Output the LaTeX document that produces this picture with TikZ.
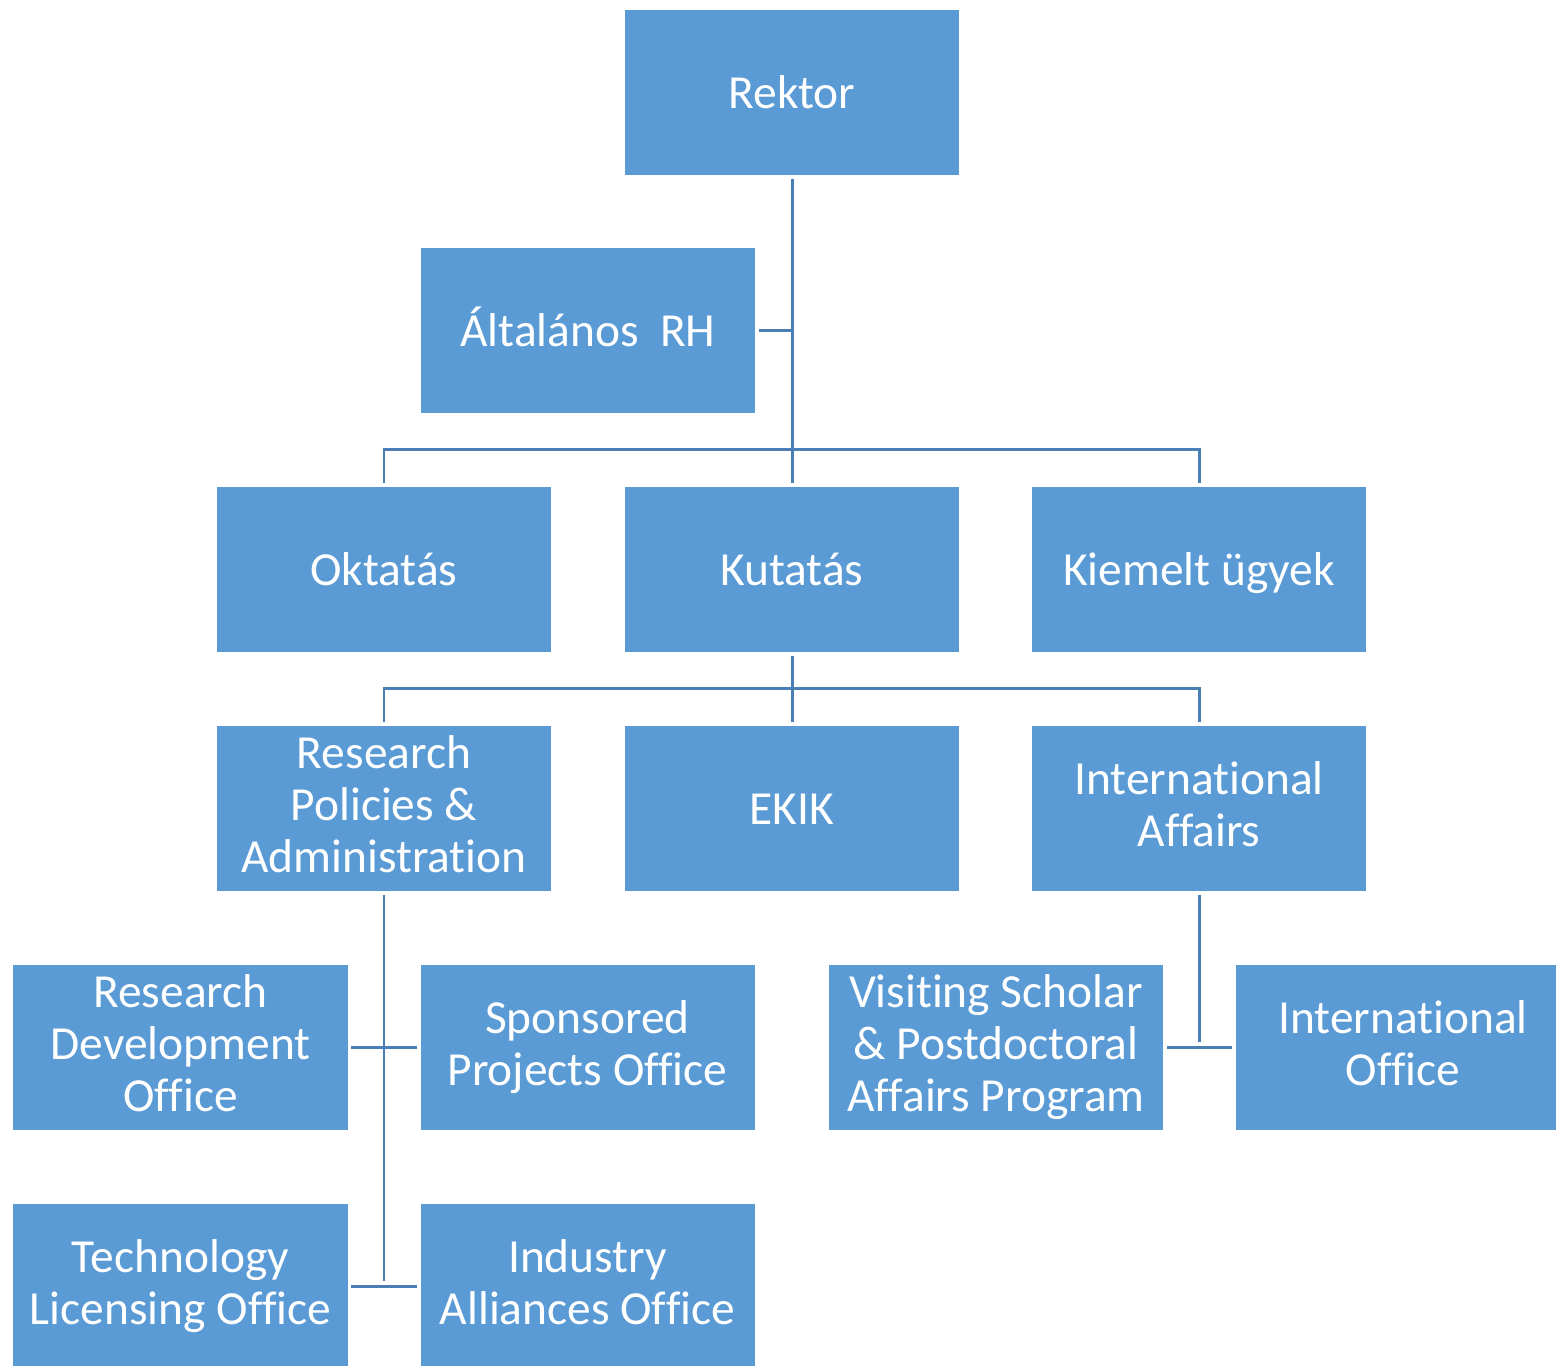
\documentclass[tikz,border=0pt]{standalone}
\usepackage{fontspec}
\setmainfont{Carlito}[Ligatures={NoCommon,NoRequired,NoContextual,NoRare},Contextuals={NoAlternate}]
\usepackage{xcolor}
\usepackage{tikz}
\usetikzlibrary{calc}
\usetikzlibrary{positioning}

\definecolor{boxblue}{HTML}{5B9BD5}
\definecolor{linkblue}{HTML}{4A7EB4}
\newcommand{\unitstrut}{\vrule height 12pt depth 2.7pt width 0pt}

\begin{document}
\begin{tikzpicture}[-,
                    unit box/.style={rectangle,fill=boxblue,text=white,minimum width=3.34cm,minimum height=1.65cm,
                                     inner sep=0pt,align=center,font=\fontsize{13.5}{14.8}\selectfont,
                                     execute at begin node=\unitstrut,execute at end node=\unitstrut},
                    link/.style={draw=linkblue,line width=0.85pt,shorten <=0.03cm,shorten >=0.03cm}]

  \useasboundingbox (0,0) rectangle (15.56,-13.65);
  \clip (0,0) rectangle (15.56,-13.65);

  \node[unit box] (rektor) at (7.92,-0.925) {Rektor};
  \node[unit box] (altalanos) [shift={(-2.04,-2.38)}] at (rektor) {Általános\ \ RH};
  \node[unit box] (kutatas) [shift={(0,-4.77)}] at (rektor) {Kutatás};
  \node[unit box] (oktatas) [shift={(-4.08,0)}] at (kutatas) {Oktatás};
  \node[unit box] (kiemelt) [shift={(4.07,0)}] at (kutatas) {Kiemelt ügyek};

  \node[unit box] (rpa) [shift={(0,-2.39)}] at (oktatas) {Research\\Policies \&\\Administration};
  \node[unit box] (ekik) [shift={(0,-2.39)}] at (kutatas) {EKIK};
  \node[unit box] (intaff) [shift={(0,-2.39)}] at (kiemelt) {International\\Affairs};

  \node[unit box] (rdo) [shift={(-2.035,-2.39)}] at (rpa) {Research\\Development\\Office};
  \node[unit box] (spo) [shift={(2.035,-2.39)}] at (rpa) {Sponsored\\Projects Office};
  \node[unit box] (tlo) [shift={(0,-2.39)}] at (rdo) {Technology\\Licensing Office};
  \node[unit box] (iao) [shift={(0,-2.39)}] at (spo) {Industry\\Alliances Office};

  \node[unit box] (visiting) [shift={(-2.03,-2.39)}] at (intaff) {Visiting Scholar\\\& Postdoctoral\\Affairs Program};
  \node[unit box] (intoffice) [shift={(2.04,-2.39)}] at (intaff) {International\\Office};

  % buses
  \coordinate (bus1) at ($(kutatas.north)+(0,0.37)$);
  \coordinate (bus2) at ($(ekik.north)+(0,0.37)$);

  \path[link] (rektor.south) edge (kutatas.north);
  \path[link] (altalanos.east) edge ([shift={(0.03,0)}]altalanos.east -| rektor.south);
  \draw[link] (oktatas.north) |- (bus1) -| (kiemelt.north);

  \path[link] (kutatas.south) edge (ekik.north);
  \draw[link] (rpa.north) |- (bus2) -| (intaff.north);

  \path[link] (rpa.south) edge ([shift={(0,0.03)}]rpa.south |- tlo.east)
              (rdo.east) edge (spo.west)
              (tlo.east) edge (iao.west);

  \path[link] (intaff.south) edge ([shift={(0,0.03)}]intaff.south |- visiting.east)
              (visiting.east) edge (intoffice.west);

\end{tikzpicture}
\end{document}
